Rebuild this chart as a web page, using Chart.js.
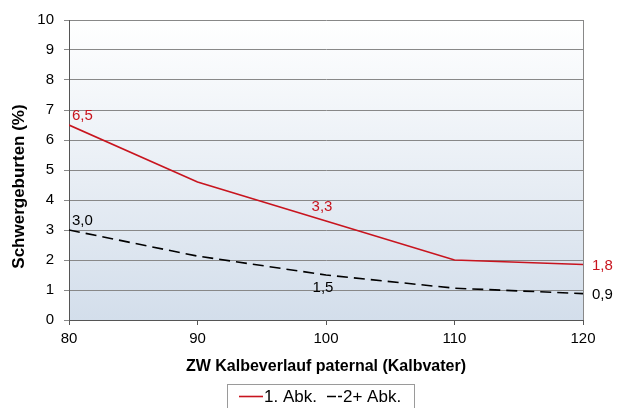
<!DOCTYPE html>
<html>
<head>
<meta charset="utf-8">
<script src="https://cdn.jsdelivr.net/npm/chart.js@4/dist/chart.umd.min.js"></script>
<style>
html,body{margin:0;padding:0;background:#fff}
#wrap{width:617px;height:408px}
</style>
</head>
<body>
<div id="wrap"><canvas id="chart" width="617" height="408"></canvas></div>
<script>
// values
const zw=[80,90,100,110,120];
const abk1=[6.5,4.6,3.3,2.0,1.85];
const abk2=[3.0,2.13,1.5,1.06,0.88];
const abk1Labels=['6,5','','3,3','','1,8'];
const abk2Labels=['3,0','','1,5','','0,9'];
const yTicks=[0,1,2,3,4,5,6,7,8,9,10];

const FONT="'Liberation Sans', Arial, sans-serif";
const RED='#c8141e';

// where each value label sits relative to its point
const labelPos1=['aboveRight','','above','','right'];
const labelPos2=['aboveRight','','below','','right'];

const plotBg={
 id:'plotBg',
 beforeDraw(c){
  const a=c.chartArea,ctx=c.ctx;
  const g=ctx.createLinearGradient(0,a.top,0,a.bottom);
  g.addColorStop(0,'#ffffff');
  g.addColorStop(1,'#d3deeb');
  ctx.save();ctx.fillStyle=g;ctx.fillRect(a.left,a.top,a.right-a.left,a.bottom-a.top);ctx.restore();
 },
 afterDraw(c){
  const a=c.chartArea,ctx=c.ctx;
  ctx.save();
  ctx.strokeStyle='#888';ctx.lineWidth=1;
  ctx.beginPath();ctx.moveTo(a.right+0.5,a.top);ctx.lineTo(a.right+0.5,a.bottom);ctx.stroke();
  ctx.restore();
 }
};

// legend drawn by hand so it can sit in a framed box like the original
const boxLegend={
 id:'boxLegend',
 afterDraw(c){
  const ctx=c.ctx;
  const y=396.5;
  ctx.save();
  ctx.strokeStyle='#9a9a9a';ctx.lineWidth=1;
  ctx.strokeRect(227.5,384.5,187,30);
  ctx.font='17px '+FONT;ctx.textBaseline='middle';ctx.textAlign='left';ctx.fillStyle='#000';
  const items=[{x:239,w:24,dash:[]},{x:327,w:15,dash:[9,2,4,0]}];
  c.data.datasets.forEach((ds,i)=>{
   const it=items[i];
   ctx.strokeStyle=ds.borderColor;ctx.lineWidth=1.6;ctx.setLineDash(it.dash);
   ctx.beginPath();ctx.moveTo(it.x,y);ctx.lineTo(it.x+it.w,y);ctx.stroke();
   ctx.setLineDash([]);
   ctx.fillText(ds.legendText,it.x+it.w+1,y+1);
  });
  ctx.restore();
 }
};

const valueLabels={
 id:'valueLabels',
 afterDatasetsDraw(c){
  const ctx=c.ctx;
  ctx.save();
  ctx.font='15px '+FONT;
  c.data.datasets.forEach((ds,di)=>{
   const meta=c.getDatasetMeta(di);
   ds.valueLabels.forEach((t,i)=>{
    if(!t) return;
    const p=meta.data[i],pos=ds.labelPos[i];
    ctx.fillStyle=ds.labelColor;
    ctx.textBaseline='middle';
    if(pos==='aboveRight'){ctx.textAlign='left';ctx.fillText(t,p.x+3,p.y-9);}
    else if(pos==='above'){ctx.textAlign='center';ctx.fillText(t,p.x-4,p.y-14);}
    else if(pos==='below'){ctx.textAlign='center';ctx.fillText(t,p.x-3,p.y+13);}
    else {ctx.textAlign='left';ctx.fillText(t,p.x+9,p.y+1);}
   });
  });
  ctx.restore();
 }
};

new Chart(document.getElementById('chart'),{
 type:'line',
 data:{datasets:[
  {label:'1. Abk.',legendText:'1. Abk.',data:zw.map((x,i)=>({x:x,y:abk1[i]})),borderColor:RED,backgroundColor:RED,borderWidth:1.6,
   pointRadius:0,tension:0,valueLabels:abk1Labels,labelPos:labelPos1,labelColor:RED},
  {label:'2+ Abk.',legendText:'2+ Abk.',data:zw.map((x,i)=>({x:x,y:abk2[i]})),borderColor:'#000',backgroundColor:'#000',borderWidth:1.6,
   borderDash:[11,6],pointRadius:0,tension:0,valueLabels:abk2Labels,labelPos:labelPos2,labelColor:'#000'}
 ]},
 options:{
  responsive:false,animation:false,
  layout:{padding:{left:0,right:34,top:20,bottom:32}},
  plugins:{
   tooltip:{enabled:false},
   legend:{display:false}
  },
  scales:{
   x:{type:'linear',min:80,max:120,
    ticks:{stepSize:10,color:'#000',font:{family:FONT,size:15},padding:5},
    grid:{drawOnChartArea:false,tickLength:5,color:'#555'},
    border:{color:'#555',width:1},
    title:{display:true,text:'ZW Kalbeverlauf paternal (Kalbvater)',color:'#000',font:{family:FONT,size:16,weight:'bold'},padding:{top:8,bottom:0}},
    afterFit(s){s.height=56;}
   },
   y:{min:0,max:10,
    afterBuildTicks(s){s.ticks=yTicks.map(v=>({value:v}));},
    ticks:{color:'#000',font:{family:FONT,size:15},padding:10},
    grid:{color:'#888',tickLength:5},
    border:{color:'#555',width:1},
    // trailing spaces nudge the rotated title down like in the original
    title:{display:true,text:'Schwergeburten (%)\u00a0\u00a0\u00a0\u00a0\u00a0\u00a0\u00a0',color:'#000',font:{family:FONT,size:17,weight:'bold'},padding:{top:9,bottom:4}},
    afterFit(s){s.width=69;}
   }
  }
 },
 plugins:[plotBg,valueLabels,boxLegend]
});
</script>
</body>
</html>
